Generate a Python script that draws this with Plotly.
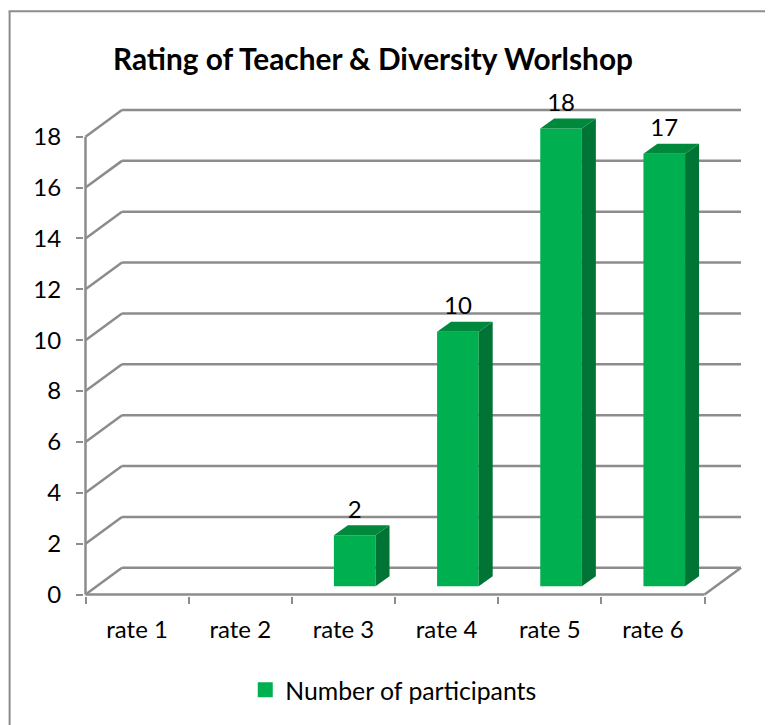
import plotly.graph_objects as go

categories = ["rate 1", "rate 2", "rate 3", "rate 4", "rate 5", "rate 6"]
participants = [None, None, 2, 10, 18, 17]
y_ticks = [0, 2, 4, 6, 8, 10, 12, 14, 16, 18]
series_name = "Number of participants"
title_text = "<b>Rating of Teacher &amp; Diversity Worlshop</b>"

# the page adds an 8px body margin, so the figure frame starts at (8, 8)
W, H = 765, 717
L, R, B, T = 77.0, 697.0, 586.3, 128.5
WALL_DX, WALL_DY = 36.5, 26.7
HEAD = 3.0
PAD = 1.5
PX_X = (R - L) / len(categories)
PX_Y = (B - T) / max(y_ticks)
x_lo, x_hi = -0.5, len(categories) - 0.5
wall_x = WALL_DX / PX_X
wall_y = WALL_DY / PX_Y
y_hi = max(y_ticks) + wall_y + HEAD / PX_Y
x_range = [x_lo - PAD / PX_X, x_hi + wall_x]
y_range = [-PAD / PX_Y, y_hi]

BAR_SHIFT = 11.3 / PX_X
BAR_BASE = 8.3 / PX_Y
BAR_W = 41.7 / PX_X
BAR_DX = 14.0 / PX_X
BAR_DY = 10.0 / PX_Y

GRID = "#8C8C8C"
FRONT, SIDE, TOP = "#00B050", "#007434", "#00883D"
FONT = "Lato, Carlito, Calibri, sans-serif"

page_l, page_r = L - PAD, W - (R + WALL_DX)
page_t, page_b = T - WALL_DY - HEAD, H - B - PAD
plot_w, plot_h = W - page_l - page_r, H - page_t - page_b


def px(v):
    return (v - page_l) / plot_w


def py(v):
    return 1 - (v - page_t) / plot_h


def fx(v):
    return (v - x_range[0]) / (x_range[1] - x_range[0])


def fy(v):
    return (v - y_range[0]) / (y_range[1] - y_range[0])


fig = go.Figure()
shapes = []


def seg(x0, y0, x1, y1, layer="below"):
    shapes.append(dict(type="line", xref="paper", yref="paper", x0=fx(x0), y0=fy(y0), x1=fx(x1), y1=fy(y1),
                       layer=layer, line=dict(color=GRID, width=2.5)))


for t in y_ticks:
    seg(x_lo, t, x_lo + wall_x, t + wall_y)
    seg(x_lo + wall_x, t + wall_y, x_hi + wall_x, t + wall_y)
seg(x_lo, max(y_ticks), x_lo, 0, layer="above")
seg(x_lo, 0, x_hi, 0, layer="above")
seg(x_hi, 0, x_hi + wall_x, wall_y)

xc = [i + BAR_SHIFT for i in range(len(categories))]
vals = [v + BAR_BASE if v is not None else None for v in participants]

fig.add_trace(go.Bar(x=xc, y=participants, base=BAR_BASE, width=BAR_W, marker=dict(color=FRONT, line=dict(width=0)),
                     showlegend=False, hoverinfo="skip"))
for i, v in enumerate(participants):
    if v is None:
        continue
    x0, x1 = xc[i] - BAR_W / 2, xc[i] + BAR_W / 2
    y0, y1 = BAR_BASE, BAR_BASE + v
    fig.add_trace(go.Scatter(x=[x1, x1 + BAR_DX, x1 + BAR_DX, x1, x1], y=[y0, y0 + BAR_DY, y1 + BAR_DY, y1, y0],
                             mode="lines", fill="toself", fillcolor=SIDE, line=dict(width=0), showlegend=False, hoverinfo="skip"))
    fig.add_trace(go.Scatter(x=[x0, x0 + BAR_DX, x1 + BAR_DX, x1, x0], y=[y1, y1 + BAR_DY, y1 + BAR_DY, y1, y1],
                             mode="lines", fill="toself", fillcolor=TOP, line=dict(width=0), showlegend=False, hoverinfo="skip"))

fig.add_trace(go.Scatter(x=xc, y=[v + 0.45 if v is not None else None for v in vals], mode="text",
                         text=[str(v) if v is not None else "" for v in participants], textposition="top center",
                         textfont=dict(family=FONT, size=24, color="#000000"), cliponaxis=False,
                         showlegend=False, hoverinfo="skip"))
fig.add_trace(go.Scatter(x=[None], y=[None], mode="markers", name=series_name,
                         marker=dict(symbol="square", size=15, color=FRONT)))

shapes.append(dict(type="line", xref="paper", yref="paper", x0=px(1), x1=px(1), y0=py(3), y1=py(717),
                   line=dict(color=GRID, width=2), layer="above"))
shapes.append(dict(type="line", xref="paper", yref="paper", x0=px(0), x1=px(762), y0=py(3), y1=py(3),
                   line=dict(color=GRID, width=2), layer="above"))

fig.update_layout(
    width=W, height=H, autosize=False,
    margin=dict(l=page_l, r=page_r, t=page_t, b=page_b),
    paper_bgcolor="white", plot_bgcolor="white",
    font=dict(family=FONT, size=24, color="#000000"),
    shapes=shapes,
    title=dict(text=title_text, x=365 / W, xanchor="center", y=1 - 52 / H, yanchor="middle",
               font=dict(family=FONT, size=29.8, color="#000000")),
    xaxis=dict(range=x_range, showgrid=False, zeroline=False, showline=False,
               tickmode="array", tickvals=list(range(len(categories))), ticktext=categories, ticks="",
               ticklabelstandoff=17,
               minor=dict(tickmode="array", tickvals=[i - 0.5 for i in range(len(categories) + 1)], ticks="outside",
                          ticklen=6.5, tickwidth=2, tickcolor=GRID, showgrid=False),
               tickfont=dict(family=FONT, size=24)),
    yaxis=dict(range=y_range, showgrid=False, zeroline=False, showline=False, tickmode="array", tickvals=y_ticks,
               ticks="outside", ticklen=7, tickwidth=2, tickcolor=GRID, ticklabelstandoff=10,
               tickfont=dict(family=FONT, size=24)),
    legend=dict(x=px(237), y=py(682), xanchor="left", yanchor="middle", bgcolor="rgba(0,0,0,0)",
                font=dict(family=FONT, size=24.8), itemsizing="trace"),
    barmode="overlay",
)
fig.write_html("out.html")
